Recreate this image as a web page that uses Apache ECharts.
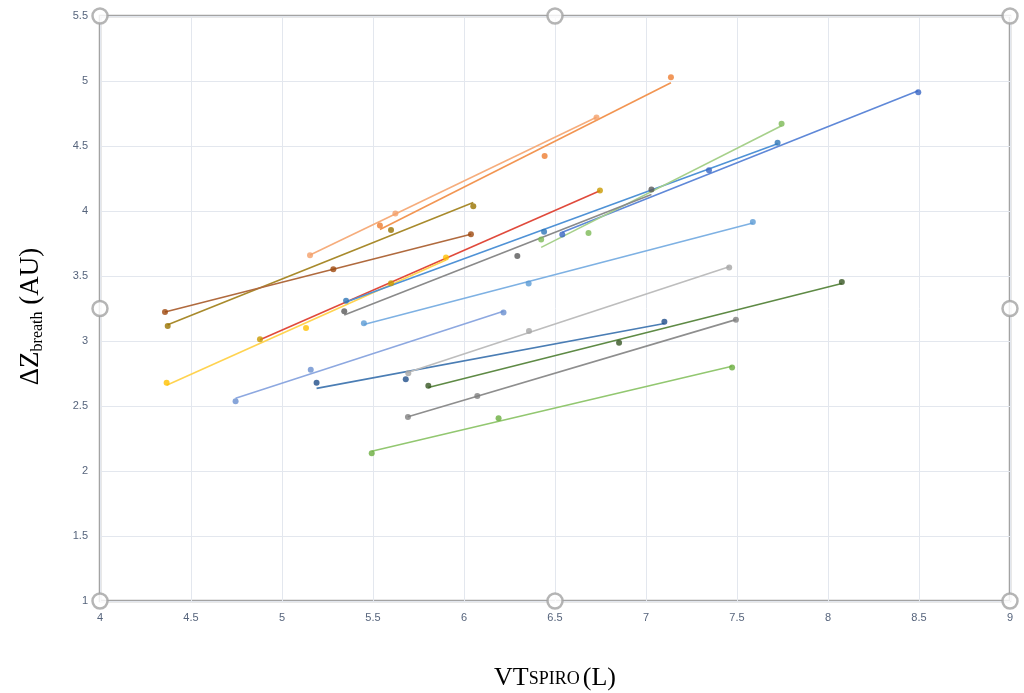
<!DOCTYPE html>
<html>
<head>
<meta charset="utf-8">
<script src="https://cdn.jsdelivr.net/npm/echarts@6/dist/echarts.min.js"></script>
<style>
  html, body { margin: 0; padding: 0; background: #fff; }
  #chart { width: 1024px; height: 693px; }
</style>
</head>
<body>
<div id="chart"></div>
<script>
// tick labels
var xTicks = [4, 4.5, 5, 5.5, 6, 6.5, 7, 7.5, 8, 8.5, 9]
var yTicks = [1, 1.5, 2, 2.5, 3, 3.5, 4, 4.5, 5, 5.5]

// VT spiro (L) and delta Z breath (AU), one pair per subject
var s01_vt = [5.154, 5.623, 6.728], s01_dz = [3.659, 3.981, 4.72]
var s02_vt = [5.538, 6.443, 7.137], s02_dz = [3.889, 4.423, 5.028]
var s03_vt = [4.372, 5.599, 6.051], s03_dz = [3.115, 3.853, 4.037]
var s04_vt = [4.357, 5.282, 6.038], s04_dz = [3.223, 3.551, 3.822]
var s05_vt = [4.879, 5.599, 6.747], s05_dz = [3.013, 3.444, 4.158]
var s06_vt = [4.366, 5.132, 5.901], s06_dz = [2.679, 3.1, 3.643]
var s07_vt = [5.352, 6.44, 7.723], s07_dz = [3.31, 3.84, 4.525]
var s08_vt = [6.54, 7.346, 8.496], s08_dz = [3.82, 4.313, 4.913]
var s09_vt = [5.45, 6.355, 7.587], s09_dz = [3.136, 3.442, 3.915]
var s10_vt = [6.424, 6.684, 7.745], s10_dz = [3.78, 3.83, 4.671]
var s11_vt = [5.342, 6.293, 7.03], s11_dz = [3.229, 3.654, 4.166]
var s12_vt = [4.745, 5.158, 6.217], s12_dz = [2.536, 2.779, 3.22]
var s13_vt = [5.19, 5.68, 7.101], s13_dz = [2.679, 2.705, 3.149]
var s14_vt = [5.694, 6.357, 7.457], s14_dz = [2.751, 3.077, 3.566]
var s15_vt = [5.804, 6.852, 8.076], s15_dz = [2.656, 2.987, 3.454]
var s16_vt = [5.692, 6.073, 7.494], s16_dz = [2.415, 2.577, 3.164]
var s17_vt = [5.493, 6.19, 7.473], s17_dz = [2.136, 2.405, 2.797]

// selection handles of the plot area (corners and mid-edges)
var handleX = [4, 6.5, 9, 4, 9, 4, 6.5, 9]
var handleY = [5.5, 5.5, 5.5, 3.25, 3.25, 1, 1, 1]

var subjects = [
    {vt: s01_vt, dz: s01_dz, dot: '#F4A06A', line: '#F6AD7C'},
    {vt: s02_vt, dz: s02_dz, dot: '#ED7D31', line: '#F29552'},
    {vt: s03_vt, dz: s03_dz, dot: '#997300', line: '#A88A2C'},
    {vt: s04_vt, dz: s04_dz, dot: '#9E480E', line: '#B06A3E'},
    {vt: s05_vt, dz: s05_dz, dot: '#C99A00', line: '#E04A3C'},
    {vt: s06_vt, dz: s06_dz, dot: '#FFC000', line: '#FFD350'},
    {vt: s07_vt, dz: s07_dz, dot: '#2E75B6', line: '#4F92D6'},
    {vt: s08_vt, dz: s08_dz, dot: '#3A66C4', line: '#5F88D8'},
    {vt: s09_vt, dz: s09_dz, dot: '#5B9BD5', line: '#7EB1E3'},
    {vt: s10_vt, dz: s10_dz, dot: '#7CB955', line: '#A6D08A'},
    {vt: s11_vt, dz: s11_dz, dot: '#595959', line: '#8A8A8A'},
    {vt: s12_vt, dz: s12_dz, dot: '#698ED0', line: '#8DA8E0'},
    {vt: s13_vt, dz: s13_dz, dot: '#1F4E89', line: '#4A7DB4'},
    {vt: s14_vt, dz: s14_dz, dot: '#A5A5A5', line: '#BDBDBD'},
    {vt: s15_vt, dz: s15_dz, dot: '#375623', line: '#5E8A45'},
    {vt: s16_vt, dz: s16_dz, dot: '#7F7F7F', line: '#8E8E8E'},
    {vt: s17_vt, dz: s17_dz, dot: '#6AAE3E', line: '#92C770'}
]

// least squares trendline between the first and last VT of a subject
function trend(vt, dz) {
    var n = vt.length, mx = 0, my = 0
    for (var i = 0; i < n; i++) { mx += vt[i]; my += dz[i] }
    mx /= n; my /= n
    var sxy = 0, sxx = 0
    for (var j = 0; j < n; j++) {
        sxy += (vt[j] - mx) * (dz[j] - my)
        sxx += (vt[j] - mx) * (vt[j] - mx)
    }
    var b = sxy / sxx, a = my - b * mx
    var x0 = Math.min.apply(null, vt), x1 = Math.max.apply(null, vt)
    return [[x0, a + b * x0], [x1, a + b * x1]]
}

function pairs(xs, ys) {
    return xs.map(function (x, i) { return [x, ys[i]] })
}

var series = []
subjects.forEach(function (s, k) {
    series.push({
        name: 'trend' + k,
        type: 'line',
        data: trend(s.vt, s.dz),
        showSymbol: false,
        silent: true,
        lineStyle: {color: s.line, width: 1.6},
        z: 2
    })
    series.push({
        name: 'subject' + k,
        type: 'scatter',
        data: pairs(s.vt, s.dz),
        symbolSize: 6,
        itemStyle: {color: s.dot},
        z: 3
    })
})
series.push({
    name: 'handles',
    type: 'scatter',
    data: pairs(handleX, handleY),
    symbol: 'circle',
    symbolSize: 15,
    clip: false,
    silent: true,
    itemStyle: {color: '#ffffff', borderColor: '#A3A3A3', borderWidth: 2.5},
    z: 10
})

var labelFont = {
    color: '#56647C',
    fontSize: 11,
    fontFamily: '"Liberation Sans Narrow", "Liberation Sans", sans-serif'
}
var serif = '"Liberation Serif", "DejaVu Serif", serif'

var chart = echarts.init(document.getElementById('chart'))
var option = {
    animation: false,
    grid: {
        left: 100, right: 14, top: 16, bottom: 92,
        show: true, borderColor: '#A3A3A3', borderWidth: 2.5,
        containLabel: false,
        outerBoundsMode: 'none'
    },
    xAxis: {
        type: 'value',
        min: xTicks[0], max: xTicks[xTicks.length - 1], interval: 0.5,
        axisLine: {show: false},
        axisTick: {show: false},
        splitLine: {lineStyle: {color: '#E3E7EE', width: 1}},
        axisLabel: Object.assign({margin: 11}, labelFont),
        name: '{big|VT}{sc|SPIRO}{par|(L)}',
        nameLocation: 'middle',
        nameGap: 60,
        nameTextStyle: {
            rich: {
                big: {fontFamily: serif, fontSize: 26, color: '#000', lineHeight: 30, verticalAlign: 'bottom'},
                par: {fontFamily: serif, fontSize: 26, color: '#000', lineHeight: 30, verticalAlign: 'bottom', padding: [0, 0, 0, 3]},
                sc: {fontFamily: serif, fontSize: 18, color: '#000', lineHeight: 22, verticalAlign: 'bottom', padding: [0, 0, 3, 0]}
            }
        }
    },
    yAxis: {
        type: 'value',
        min: yTicks[0], max: yTicks[yTicks.length - 1], interval: 0.5,
        axisLine: {show: false},
        axisTick: {show: false},
        splitLine: {lineStyle: {color: '#E3E7EE', width: 1}},
        axisLabel: Object.assign({margin: 12}, labelFont),
        name: '{big|ΔZ}{sub|breath}{big| (AU)}',
        nameLocation: 'middle',
        nameRotate: 90,
        nameGap: 54,
        nameTextStyle: {
            padding: [0, 16, 0, 0],
            rich: {
                big: {fontFamily: serif, fontSize: 27, color: '#000', lineHeight: 30, verticalAlign: 'middle'},
                sub: {fontFamily: serif, fontSize: 16, color: '#000', lineHeight: 16, verticalAlign: 'bottom'}
            }
        }
    },
    series: series
}
chart.setOption(option)
</script>
</body>
</html>
